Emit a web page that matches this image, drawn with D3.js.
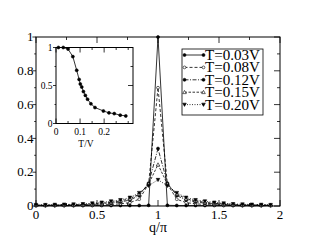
<!DOCTYPE html>
<html><head><meta charset="utf-8">
<script src="https://cdn.jsdelivr.net/npm/d3@7"></script>
<style>body{margin:0;background:#fff}svg{display:block}text{font-family:"Liberation Serif","Times New Roman",serif;fill:#000}</style>
</head><body><svg id="c" width="314" height="243"></svg>
<script>
// ---- data ----
const kIndex = d3.range(26);            // q/pi = k/13
const qOverPi = kIndex.map(k => k / 13);
const seriesNames = ["T=0.03V","T=0.08V","T=0.12V","T=0.15V","T=0.20V"];
const sT03 = [0.003,0.003,0.003,0.003,0.003,0.003,0.003,0.003,0.003,0.003,0.003,0.003,0.004,1.0,0.004,0.003,0.003,0.003,0.003,0.003,0.003,0.003,0.003,0.003,0.003,0.003];
const sT08 = [0.002,0.002,0.002,0.002,0.002,0.003,0.004,0.006,0.009,0.013,0.02,0.04,0.13,0.70,0.13,0.04,0.02,0.013,0.009,0.006,0.004,0.003,0.002,0.002,0.002,0.002];
const sT12 = [0.004,0.004,0.004,0.005,0.005,0.007,0.009,0.012,0.017,0.024,0.035,0.062,0.135,0.34,0.135,0.062,0.035,0.024,0.017,0.012,0.009,0.007,0.005,0.005,0.004,0.004];
const sT15 = [0.005,0.005,0.006,0.006,0.007,0.009,0.012,0.016,0.022,0.03,0.043,0.07,0.13,0.245,0.13,0.07,0.043,0.03,0.022,0.016,0.012,0.009,0.007,0.006,0.006,0.005];
const sT20 = [0.007,0.007,0.008,0.009,0.01,0.012,0.016,0.021,0.028,0.036,0.05,0.078,0.12,0.155,0.12,0.078,0.05,0.036,0.028,0.021,0.016,0.012,0.01,0.009,0.008,0.007];
const xTickLabels = ["0","0.5","1","1.5","2"];
const yTickLabels = ["0","0.2","0.4","0.6","0.8","1"];
const insetT = [0.01,0.03,0.05,0.07,0.086,0.096,0.101,0.107,0.114,0.122,0.131,0.145,0.162,0.197,0.22,0.242,0.267,0.29];
const insetS = [1.0,1.0,0.98,0.88,0.70,0.58,0.52,0.48,0.42,0.37,0.32,0.26,0.21,0.165,0.14,0.13,0.11,0.10];
const insetXTickLabels = ["0","0.1","0.2"];
const insetYTickLabels = ["0","0.5","1"];

// ---- drawing ----
const svg = d3.select("#c");
const x = d3.scaleLinear([0,2],[36,280]);
const y = d3.scaleLinear([0,1],[206,37]);
const styles = [
  {dash:null, marker:"dot", fill:"#000"},
  {dash:"3,2", marker:"circle", fill:"#fff"},
  {dash:"4,1.5,1,1.5", marker:"dot", fill:"#000"},
  {dash:"2.5,1.5", marker:"tri", fill:"#fff"},
  {dash:"1,1.5", marker:"dtri", fill:"#000"}
];
const allSeries = [sT03,sT08,sT12,sT15,sT20];

function marker(g, type, cx, cy, fill){
  if(type==="dot"||type==="circle"){
    g.append("circle").attr("cx",cx).attr("cy",cy).attr("r",type==="dot"?1.5:1.4)
     .attr("fill",fill).attr("stroke","#000").attr("stroke-width",0.6);
  } else {
    const s = 1.8, d = type==="tri" ? -1 : 1;
    const pts = [[cx,cy+d*s],[cx-s,cy-d*s*0.8],[cx+s,cy-d*s*0.8]];
    g.append("path").attr("d","M"+pts.map(p=>p.join(",")).join("L")+"Z")
     .attr("fill",fill).attr("stroke","#000").attr("stroke-width",0.6);
  }
}

function axesFrame(g, xs, ys, xMaj, xMin, yMaj, yMin, Lmaj, Lmin){
  const [x0,x1]=xs.range(), [y0,y1]=ys.range();
  g.append("rect").attr("x",x0).attr("y",y1).attr("width",x1-x0).attr("height",y0-y1)
   .attr("fill","none").attr("stroke","#000").attr("stroke-width",1);
  const t = (x1a,y1a,x2a,y2a)=>g.append("line").attr("x1",x1a).attr("y1",y1a).attr("x2",x2a).attr("y2",y2a).attr("stroke","#000").attr("stroke-width",0.8);
  xMin.forEach(v=>{const px=xs(v); const L=xMaj.includes(v)?Lmaj:Lmin; t(px,y0,px,y0-L); t(px,y1,px,y1+L);});
  yMin.forEach(v=>{const py=ys(v); const L=yMaj.includes(v)?Lmaj:Lmin; t(x0,py,x0-L*0.6,py); t(x1,py,x1-L,py);});
}
const r2 = v=>Math.round(v*1000)/1000;
const mainXMaj = xTickLabels.map(Number), mainYMaj = yTickLabels.map(Number);
const gm = svg.append("g");
axesFrame(gm, x, y, mainXMaj, d3.range(0,2.001,0.25).map(r2), mainYMaj, d3.range(0,1.001,0.1).map(r2), 6, 3);

gm.selectAll(".xl").data(xTickLabels).join("text").attr("x",d=>x(+d)).attr("y",218.5)
  .attr("text-anchor","middle").attr("font-size",13).text(d=>d);
gm.selectAll(".yl").data(yTickLabels).join("text").attr("x",33.5).attr("y",d=>y(+d)).attr("dy","0.33em")
  .attr("text-anchor","end").attr("font-size",13).text(d=>d);
gm.append("text").attr("x",158).attr("y",231.5).attr("text-anchor","middle").attr("font-size",14).text("q/π");

const line = d3.line().x((d,i)=>x(qOverPi[i])).y(d=>y(d));
allSeries.forEach((s,si)=>{
  const st = styles[si];
  gm.append("path").attr("d",line(s)).attr("fill","none").attr("stroke","#000").attr("stroke-width",0.8)
    .attr("stroke-dasharray",st.dash);
});
allSeries.forEach((s,si)=>{
  const st = styles[si];
  const g = gm.append("g");
  s.forEach((v,i)=>marker(g, st.marker, x(qOverPi[i]), y(v), st.fill));
});

// legend
const lg = svg.append("g");
lg.append("rect").attr("x",182).attr("y",49).attr("width",81).attr("height",66)
  .attr("fill","#fff").attr("stroke","#000").attr("stroke-width",0.8);
seriesNames.forEach((n,i)=>{
  const cy = 55 + i*12.4, st = styles[i];
  lg.append("line").attr("x1",184.5).attr("x2",203.5).attr("y1",cy).attr("y2",cy)
    .attr("stroke","#000").attr("stroke-width",0.8).attr("stroke-dasharray",st.dash);
  marker(lg, st.marker, 184.5, cy, st.fill);
  marker(lg, st.marker, 203.5, cy, st.fill);
  lg.append("text").attr("x",205).attr("y",cy).attr("dy","0.36em").attr("font-size",14)
    .attr("textLength",55).attr("lengthAdjust","spacingAndGlyphs").text(n);
});

// inset
const xi = d3.scaleLinear([0,0.32],[56,133]);
const yi = d3.scaleLinear([0,1],[123.5,47.5]);
const gi = svg.append("g");
gi.append("rect").attr("x",56).attr("y",47.5).attr("width",77).attr("height",76).attr("fill","#fff");
axesFrame(gi, xi, yi, insetXTickLabels.map(Number), d3.range(0,0.321,0.05).map(r2), insetYTickLabels.map(Number), d3.range(0,1.001,0.25).map(r2), 5, 2.5);
gi.selectAll(".ixl").data(insetXTickLabels).join("text").attr("x",d=>xi(+d)).attr("y",135)
  .attr("text-anchor","middle").attr("font-size",9.5).text(d=>d);
gi.selectAll(".iyl").data(insetYTickLabels).join("text").attr("x",52.5).attr("y",d=>yi(+d)).attr("dy","0.33em")
  .attr("text-anchor","end").attr("font-size",9.5).text(d=>d);
gi.append("text").attr("x",86).attr("y",147).attr("text-anchor","middle").attr("font-size",9.5).text("T/V");
const iline = d3.line().x((d,i)=>xi(insetT[i])).y(d=>yi(d));
gi.append("path").attr("d",iline(insetS)).attr("fill","none").attr("stroke","#000").attr("stroke-width",0.8);
insetS.forEach((v,i)=>marker(gi,"dot",xi(insetT[i]),yi(v),"#000"));
</script></body></html>
